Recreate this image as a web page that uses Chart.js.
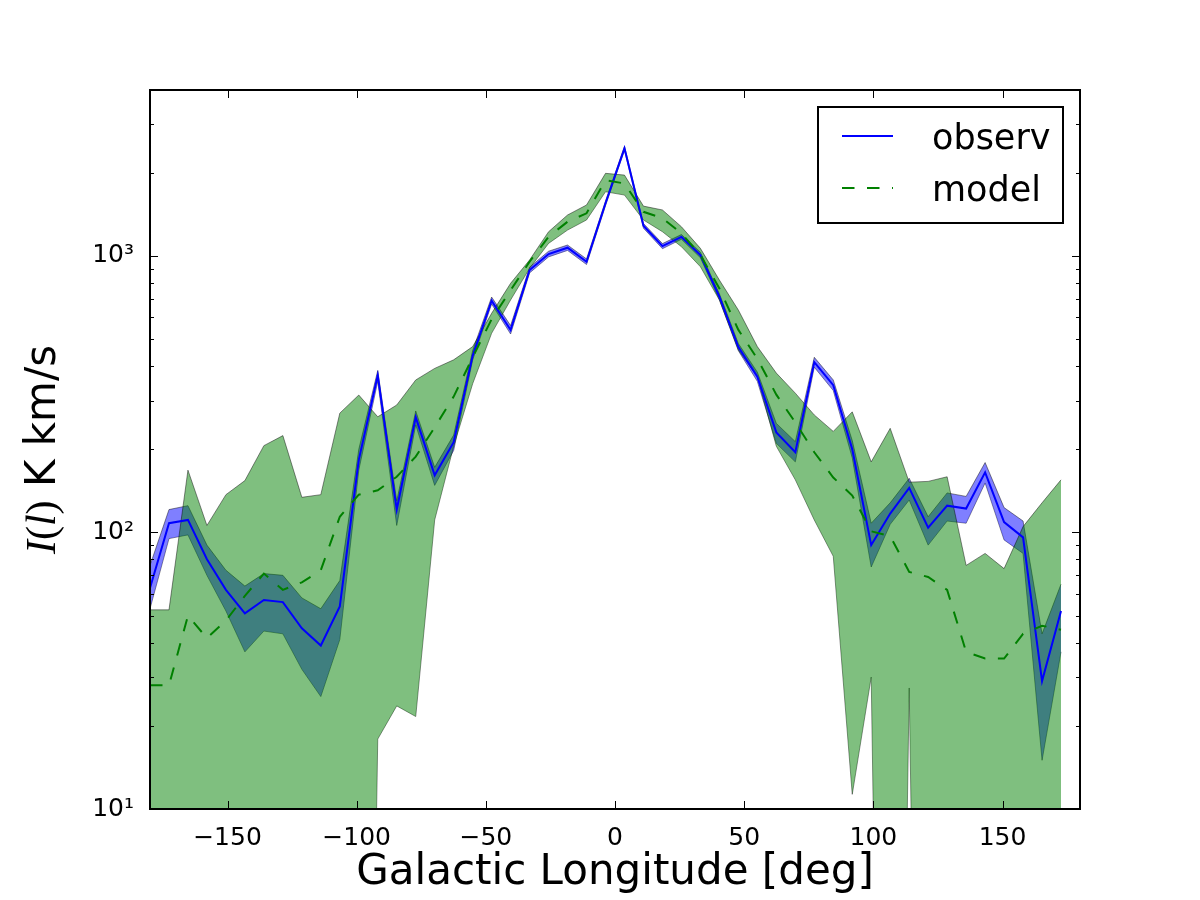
<!DOCTYPE html>
<html>
<head>
<meta charset="utf-8">
<script src="https://cdn.jsdelivr.net/npm/chart.js@4.4.0/dist/chart.umd.min.js"></script>
<style>
html, body { margin: 0; padding: 0; background: #fff; }
#wrap { width: 1200px; height: 900px; }
</style>
</head>
<body>
<div id="wrap"><canvas id="chart" width="1200" height="900"></canvas></div>
<script>
// galactic longitude of each bin [deg]
const longitude = [-180.00, -172.65, -165.31, -157.96, -150.61, -143.27, -135.92, -128.57, -121.22, -113.88,
  -106.53, -99.18, -91.84, -84.49, -77.14, -69.80, -62.45, -55.10, -47.76, -40.41,
  -33.06, -25.71, -18.37, -11.02, -3.67, 3.67, 11.02, 18.37, 25.71, 33.06,
  40.41, 47.76, 55.10, 62.45, 69.80, 77.14, 84.49, 91.84, 99.18, 106.53,
  113.88, 121.22, 128.57, 135.92, 143.27, 150.61, 157.96, 165.31, 172.65];

// observed intensity and its error band
const observ = [63, 108, 111, 80, 62, 51, 57, 56, 45, 39,
  54, 183, 370, 121, 261, 161, 212, 435, 689, 540,
  889, 1016, 1071, 953, 1550, 2450, 1285, 1085, 1172, 1007,
  712, 468, 366, 230, 195, 413, 341, 200, 90, 117,
  145, 104, 125, 122, 165, 109, 96, 29, 52];
const observUpper = [76, 121, 125, 90, 73, 64, 71, 70, 58, 53,
  67, 200, 385, 130, 275, 172, 225, 455, 710, 560,
  910, 1040, 1095, 975, 1580, 2490, 1310, 1108, 1195, 1030,
  730, 482, 380, 248, 213, 430, 356, 215, 108, 128,
  157, 114, 139, 135, 179, 123, 110, 43, 65];
const observLower = [53, 95, 98, 70, 52, 37, 44, 43, 32, 25.5,
  41, 168, 352, 106, 245, 148, 198, 420, 670, 522,
  868, 992, 1047, 931, 1520, 2410, 1260, 1062, 1149, 985,
  694, 454, 352, 210, 180, 396, 326, 186, 75, 107,
  131, 90, 110, 108, 151, 94, 84, 15, 37];

// model intensity and its spread
const model = [28, 28, 50, 41.5, 48, 59, 71, 62, 66, 73,
  114, 137, 142, 159, 188, 240, 310, 430, 590, 752,
  953, 1173, 1329, 1426, 1880, 1828, 1444, 1368, 1207, 1007,
  763, 540, 425, 315, 250, 195, 158, 136, 101, 97,
  72, 69, 62, 37, 35, 35, 43, 46, 44.5];
const modelUpper = [52.5, 52.5, 168, 106, 137, 154, 206, 224, 134, 137,
  270, 314, 262, 289, 356, 392, 421, 470, 620, 796,
  967, 1223, 1406, 1528, 1989, 1960, 1514, 1466, 1275, 1065,
  818, 637, 470, 377, 319, 266, 232, 273, 180, 238,
  152, 153, 159, 76, 84, 74, 105, 128, 155];
const modelLower = [0.001, 0.001, 0.001, 0.001, 0.001, 0.001, 0.001, 0.001, 0.001, 0.001,
  0.001, 0.001, 17.9, 23.6, 21.6, 111, 205, 345, 525, 693,
  902, 1110, 1240, 1349, 1706, 1660, 1349, 1223, 1080, 914,
  693, 457, 366, 205, 155, 111, 82, 11.3, 30, 0.001,
  27.4, 0.001, 0.001, 0.001, 0.001, 0.001, 0.001, 0.001, 0.001];

const xTicks = [-150, -100, -50, 0, 50, 100, 150];
const yTicks = [10, 100, 1000];
const yMinorTicks = [20, 30, 40, 50, 60, 70, 80, 90, 200, 300, 400, 500, 600, 700, 800, 900, 2000, 3000];
const xMin = -180, xMax = 180;
const yMin = 10, yMax = 3981;

const SANS = '"DejaVu Sans", sans-serif';
const SUP = { '1': '\u00b9', '2': '\u00b2', '3': '\u00b3' };

const pts = arr => longitude.map((l, i) => ({ x: l, y: arr[i] }));
const edge = 'rgba(0,0,0,0.45)';

const datasets = [
    { label: 'model', data: pts(model), borderColor: '#008000', borderWidth: 2,
      borderDash: [12.5, 12.5], pointRadius: 0, fill: false, order: 0 },
    { label: 'observ', data: pts(observ), borderColor: '#0000ff', borderWidth: 2,
      pointRadius: 0, fill: false, order: 1 },
    { label: 'model upper', data: pts(modelUpper), borderColor: edge, borderWidth: 1,
      pointRadius: 0, fill: '+1', backgroundColor: 'rgba(0,128,0,0.5)', order: 2 },
    { label: 'model lower', data: pts(modelLower), borderColor: edge, borderWidth: 1,
      pointRadius: 0, fill: false, order: 3 },
    { label: 'observ upper', data: pts(observUpper), borderColor: edge, borderWidth: 1,
      pointRadius: 0, fill: '+1', backgroundColor: 'rgba(0,0,255,0.5)', order: 4 },
    { label: 'observ lower', data: pts(observLower), borderColor: edge, borderWidth: 1,
      pointRadius: 0, fill: false, order: 5 },
];

// axes box with inward ticks, like the classic matplotlib style
const frame = {
    id: 'frame',
    afterDatasetsDraw(chart) {
        const { ctx, chartArea: a, scales: { x, y } } = chart;
        ctx.save();
        ctx.strokeStyle = '#000';
        ctx.lineWidth = 1;
        ctx.beginPath();
        xTicks.forEach(v => {
            const px = Math.round(x.getPixelForValue(v)) + 0.5;
            ctx.moveTo(px, a.bottom); ctx.lineTo(px, a.bottom - 8);
            ctx.moveTo(px, a.top); ctx.lineTo(px, a.top + 8);
        });
        yTicks.forEach(v => {
            const py = Math.round(y.getPixelForValue(v)) + 0.5;
            ctx.moveTo(a.left, py); ctx.lineTo(a.left + 8, py);
            ctx.moveTo(a.right, py); ctx.lineTo(a.right - 8, py);
        });
        yMinorTicks.forEach(v => {
            const py = Math.round(y.getPixelForValue(v)) + 0.5;
            ctx.moveTo(a.left, py); ctx.lineTo(a.left + 4, py);
            ctx.moveTo(a.right, py); ctx.lineTo(a.right - 4, py);
        });
        ctx.stroke();
        ctx.lineWidth = 2;
        ctx.strokeRect(a.left, a.top, a.right - a.left, a.bottom - a.top);
        ctx.restore();
    }
};

const legendBox = {
    id: 'legendBox',
    afterDatasetsDraw(chart) {
        const ctx = chart.ctx;
        const items = chart.data.datasets.slice(0, 2).reverse();
        ctx.save();
        ctx.fillStyle = '#fff';
        ctx.fillRect(818, 107, 245, 116);
        ctx.lineWidth = 2;
        ctx.strokeStyle = '#000';
        ctx.strokeRect(818, 107, 245, 116);
        items.forEach((ds, i) => {
            const ly = 136 + i * 52;
            ctx.beginPath();
            ctx.setLineDash(ds.borderDash || []);
            ctx.strokeStyle = ds.borderColor;
            ctx.lineWidth = 2;
            ctx.moveTo(842, ly); ctx.lineTo(893, ly);
            ctx.stroke();
            ctx.setLineDash([]);
            ctx.fillStyle = '#000';
            ctx.font = '35px ' + SANS;
            ctx.textBaseline = 'alphabetic';
            ctx.fillText(ds.label, 932, ly + 13);
        });
        ctx.restore();
    }
};

const axisTitles = {
    id: 'axisTitles',
    afterDraw(chart) {
        const { ctx, chartArea: a } = chart;
        ctx.save();
        ctx.fillStyle = '#000';
        ctx.textBaseline = 'alphabetic';
        ctx.font = '42px ' + SANS;
        ctx.textAlign = 'center';
        ctx.fillText('Galactic Longitude [deg]', (a.left + a.right) / 2, 884);

        const parts = [
            { t: 'I', f: 'italic 42px "Liberation Serif"' },
            { t: '(', f: '42px "Liberation Serif"' },
            { t: 'l', f: 'italic 42px "Liberation Serif"' },
            { t: ')', f: '42px "Liberation Serif"' },
            { t: ' K km/s', f: '42px ' + SANS },
        ];
        let total = 0;
        parts.forEach(p => { ctx.font = p.f; p.w = ctx.measureText(p.t).width; total += p.w; });
        ctx.translate(55, (a.top + a.bottom) / 2);
        ctx.rotate(-Math.PI / 2);
        ctx.textAlign = 'left';
        let cx = -total / 2;
        parts.forEach(p => { ctx.font = p.f; ctx.fillText(p.t, cx, 0); cx += p.w; });
        ctx.restore();
    }
};

new Chart(document.getElementById('chart'), {
    type: 'line',
    data: { datasets: datasets },
    options: {
        responsive: false,
        animation: false,
        devicePixelRatio: 1,
        layout: { padding: { top: 90, right: 120, left: 0, bottom: 0 } },
        plugins: { legend: { display: false }, tooltip: { enabled: false } },
        elements: { line: { tension: 0 } },
        scales: {
            x: {
                type: 'linear', min: xMin, max: xMax,
                grid: { display: false, drawTicks: false },
                border: { display: false },
                afterBuildTicks: s => { s.ticks = xTicks.map(v => ({ value: v })); },
                afterFit: s => { s.height = 91; },
                ticks: {
                    autoSkip: false, maxRotation: 0, padding: 14, color: '#000',
                    font: { family: SANS, size: 25 },
                    callback: v => String(v).replace('-', '\u2212')
                }
            },
            y: {
                type: 'logarithmic', min: yMin, max: yMax,
                grid: { display: false, drawTicks: false },
                border: { display: false },
                afterBuildTicks: s => { s.ticks = yTicks.map(v => ({ value: v })); },
                afterFit: s => { s.width = 150; },
                ticks: {
                    autoSkip: false, padding: 16, color: '#000',
                    font: { family: SANS, size: 25 },
                    callback: v => '10' + SUP[String(Math.round(Math.log10(v)))]
                }
            }
        }
    },
    plugins: [frame, legendBox, axisTitles]
});
</script>
</body>
</html>
